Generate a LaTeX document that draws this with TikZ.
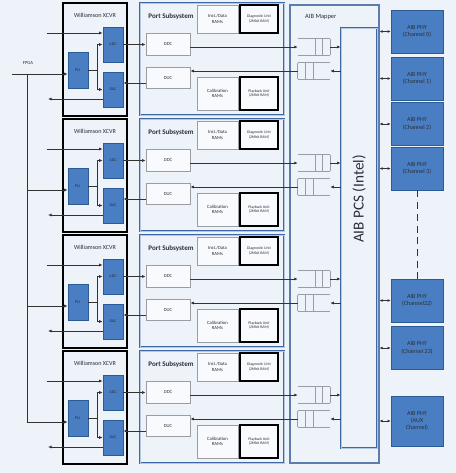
\documentclass[tikz,border=0pt]{standalone}
\usepackage{fontspec}
\setmainfont{Carlito}
\usetikzlibrary{arrows.meta,calc,positioning}
\definecolor{bgcol}{HTML}{EEF3F9}
\definecolor{phyblue}{HTML}{4A7EC2}
\definecolor{phyedge}{HTML}{2B5A95}
\definecolor{portedge}{HTML}{3E68A3}
\definecolor{portinner}{HTML}{B4C8E4}
\definecolor{mapedge}{HTML}{5C7DAE}
\definecolor{boxgray}{HTML}{9A9EA4}
\definecolor{txtcol}{HTML}{2A2F38}
\tikzset{
    px/.style={x=0.03cm,y=-0.03cm},
    xcvr/.style={draw=black,line width=1.2pt,minimum width=1.92cm,minimum height=3.39cm,inner sep=0pt},
    chip/.style={draw=phyedge,fill=phyblue,line width=0.5pt,minimum width=0.6cm,minimum height=1.05cm,
        inner sep=0pt,font=\fontsize{3.5}{4}\selectfont,text=txtcol},
    port/.style={draw=portedge,double=portinner,double distance=0.6pt,line width=0.7pt,
        minimum width=4.32cm,minimum height=3.36cm,inner sep=0pt},
    grey box/.style={draw=boxgray,fill=white!60!bgcol,line width=0.6pt,inner sep=0pt,align=center,
        font=\fontsize{4}{4.8}\selectfont,text=txtcol},
    unit/.style={draw=black,fill=white!60!bgcol,line width=1.3pt,inner sep=0pt,align=center,
        font=\fontsize{3.3}{4}\selectfont,text=txtcol,minimum width=1.14cm},
    phy/.style={draw=phyedge,fill=phyblue,line width=0.6pt,minimum width=1.56cm,minimum height=1.29cm,
        inner sep=0pt,align=center,font=\fontsize{5.2}{6.2}\selectfont,text=txtcol},
    queue/.style={minimum width=0.96cm,minimum height=0.48cm,inner sep=0pt},
    wire/.style={draw=black!80,line width=0.6pt},
    arr/.style={wire,-{Latex[length=3pt,width=2.6pt]}},
    duplex/.style={wire,{Latex[length=2.6pt,width=2.4pt]}-{Latex[length=2.6pt,width=2.4pt]}},
    qline/.style={draw=boxgray,line width=0.8pt},
    lbl/.style={inner sep=0pt,text=txtcol}
}

\begin{document}
\begin{tikzpicture}[px]
\fill[bgcol] (0,0) rectangle (456,473);
\useasboundingbox (0,0) rectangle (456,473);

% mapper and PCS
\node[draw=mapedge,line width=1pt,minimum width=2.67cm,minimum height=13.74cm,inner sep=0pt] (mapper) at (334.5,234) {};
\node[lbl,anchor=west,font=\fontsize{5.5}{6}\selectfont] (maplbl) at (305,17) {AIB Mapper};
\node[port,minimum width=1.08cm,minimum height=12.6cm] (pcs) at (359,238) {};
\node[lbl,rotate=90,font=\fontsize{13}{15}\selectfont] (pcslbl) at (359,199) {AIB PCS (Intel)};

% PHY column
\foreach \name/\y/\txt in {ch0/31.5/(Channel 0),ch1/78.5/(Channel 1),ch2/124/(Channel 2),
    ch3/168.5/(Channel 3),ch22/300.5/(Channel22),ch23/348/(Channel 23)}{
    \node[phy] (\name) at (417,\y) {AIB PHY\\\txt};
    \draw[duplex] (mapper.east |- \name.west) -- (\name.west);
}
\node[phy,minimum height=1.5cm] (aux) at (417,421) {AIB PHY\\(AUX\\Channel)};
\draw[duplex] (mapper.east |- aux.west) -- (aux.west);
\draw[wire,dash pattern=on 6pt off 4pt] (ch3.south) -- (ch22.north);

% four transceiver / port rows
\foreach \r in {0,...,3}{
\begin{scope}[shift={(0,116*\r)}]
    \node[xcvr] (xcvr\r) at (95,59.5) {};
    \node[lbl,font=\fontsize{5.2}{6}\selectfont] (xlbl\r) at (95,15) {Williamson XCVR};
    \node[chip] (adc\r) at (113,44.5) {ADC};
    \node[chip] (dac\r) at (113,89.5) {DAC};
    \node[chip,minimum height=1.08cm] (pll\r) at (78,70) {PLL};

    \node[port] (port\r) at (212,59) {};
    \node[lbl,font=\fontsize{6}{7}\selectfont\bfseries] (plbl\r) at (171,17) {Port Subsystem};
    \node[grey box,minimum width=1.23cm,minimum height=0.84cm] (ram\r) at (217.5,19) {Inst./Data\\RAMs};
    \node[unit,minimum height=0.84cm] (diag\r) at (259,19) {Diagnostic Unit\\(2Mbit RAM)};
    \node[grey box,minimum width=1.32cm,minimum height=0.66cm] (ddc\r) at (168,44) {DDC};
    \node[grey box,minimum width=1.32cm,minimum height=0.63cm] (duc\r) at (168,77.5) {DUC};
    \node[grey box,minimum width=1.23cm,minimum height=0.99cm] (cal\r) at (217.5,93.5) {Calibration\\RAMs};
    \node[unit,minimum height=0.99cm] (play\r) at (259,93.5) {Playback Unit\\(2Mbit RAM)};

    % fifos
    \node[queue] (qin\r) at (314,47) {};
    \node[queue] (qout\r) at (314,71) {};
    \draw[qline] (qin\r.north west) -- (qin\r.north east) (qin\r.south west) -- (qin\r.south east);
    \draw[qline] (qout\r.north west) -- (qout\r.north east) (qout\r.south west) -- (qout\r.south east);
    \foreach \f in {0.55,0.77,1}
        \draw[qline] ($(qin\r.north west)!\f!(qin\r.north east)$) -- ($(qin\r.south west)!\f!(qin\r.south east)$);
    \foreach \f in {0,0.25,0.47}
        \draw[qline] ($(qout\r.north west)!\f!(qout\r.north east)$) -- ($(qout\r.south west)!\f!(qout\r.south east)$);

    \coordinate (tap\r) at (27,74);
    \coordinate (rx\r) at (47,33);
    \coordinate (tx\r) at (48,99);
    \coordinate (pb\r) at (97,70);
\end{scope}
    \draw[arr] (rx\r) -- (rx\r -| adc\r.west);
    \draw[arr] (tx\r -| dac\r.west) -- (tx\r);
    \draw[wire] (pll\r.east) -- (pb\r);
    \draw[arr] (pb\r) |- (adc\r.west);
    \draw[arr] (pb\r) |- (dac\r.west);
    \draw[arr] (adc\r.east) -- (adc\r.east -| ddc\r.west);
    \draw[arr] ([shift={(0,5.5)}]duc\r.west) -- ([shift={(0,5.5)}]duc\r.west -| dac\r.east);
    \draw[arr] (ddc\r.east |- qin\r.west) -- (qin\r.west);
    \draw[arr] (qout\r.west) -- (qout\r.west -| duc\r.east);
    \draw[arr] (qin\r.east) -- (qin\r.east -| pcs.west);
    \draw[arr] (qout\r.east -| pcs.west) -- (qout\r.east);
}

% FPGA clock feed
\coordinate (fpga) at (12,74);
\node[lbl,font=\fontsize{4}{5}\selectfont] (fpgalbl) at (28,63) {FPGA};
\draw[arr] (fpga) -- (fpga -| pll0.west);
\foreach \r in {1,2,3}
    \draw[arr] (tap\r) -- (tap\r -| pll\r.west);
\draw[wire] (tap0) -- (tap3);
\end{tikzpicture}
\end{document}
